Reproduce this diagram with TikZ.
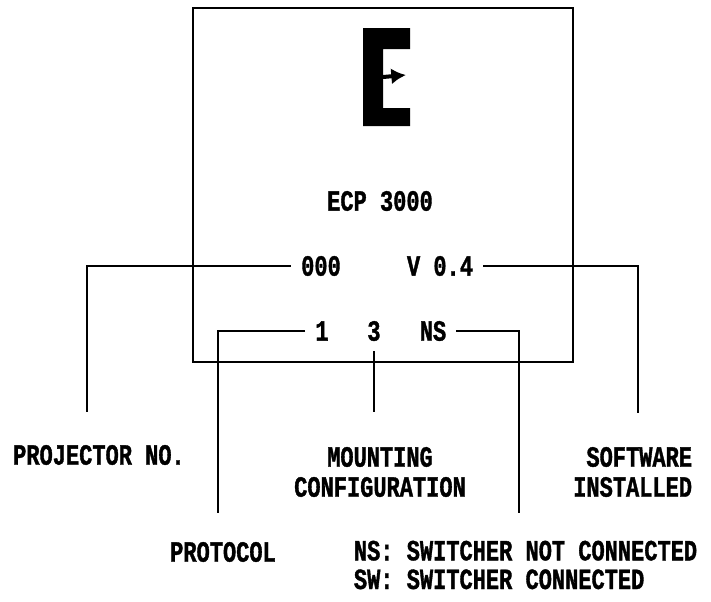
\documentclass[tikz,border=0pt]{standalone}
\usepackage{fontspec}
\newfontfamily\dotfont{Liberation Mono}[FakeStretch=0.75, FakeBold=1.2]
\usetikzlibrary{arrows.meta}

\begin{document}
\begin{tikzpicture}[
    x=0.75pt, y=-0.75pt,
    line width=1.4pt,
    readout/.style={font=\dotfont\bfseries\fontsize{22}{26}\selectfont, inner sep=7pt},
    caption/.style={font=\dotfont\bfseries\fontsize{22}{22.5}\selectfont, inner sep=0pt}
]
\useasboundingbox (0,0) rectangle (711,601);

% Display frame
\draw (193,8) rectangle (573,362);

% Logo
\fill (363,28) -- (410,28) -- (410,49) -- (383,49) -- (383,108) -- (410,108) -- (410,126) -- (363,126) -- cycle;
\draw[line width=3pt, -{Latex[length=11pt,width=12pt]}] (383,77) -- (406,75);

% Readout
\node[readout] (model) at (380,201) {ECP 3000};
\node[readout] (projno) at (321,266) {000};
\node[readout] (version) at (440,266) {V 0.4};
\node[readout] (proto) at (322,331) {1};
\node[readout] (mount) at (374,331) {3};
\node[readout] (switch) at (433,331) {NS};

% Line ends
\coordinate (pnend) at (87,412);
\coordinate (swend) at (638,413);
\coordinate (prend) at (218,513);
\coordinate (mcend) at (374,412);
\coordinate (nsend) at (519,513);

% Leaders
\draw (projno.west) -| (pnend);
\draw (version.east) -| (swend);
\draw (proto.west) -| (prend);
\draw (mount.south) -- (mcend);
\draw (switch.east) -| (nsend);

% Captions
\node[caption] (pncap) at (99,455) {PROJECTOR NO.};
\node[caption, align=center] (mccap) at (380,472) {MOUNTING\\CONFIGURATION};
\node[caption, align=right, anchor=east] (swcap) at (693,472) {SOFTWARE\\INSTALLED};
\node[caption] (prcap) at (223,552) {PROTOCOL};
\node[caption, align=left, anchor=west] (nscap) at (353,565) {NS: SWITCHER NOT CONNECTED\\[-1pt]SW: SWITCHER CONNECTED};

\end{tikzpicture}
\end{document}
